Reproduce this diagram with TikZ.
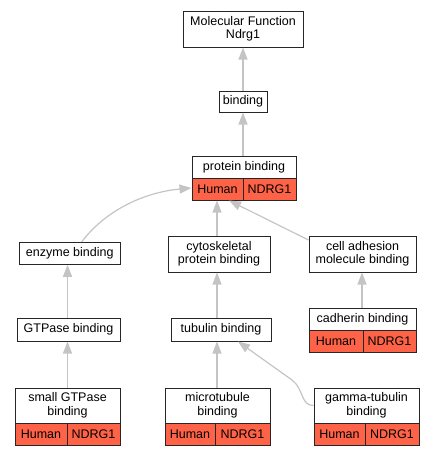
\documentclass[tikz,border=0pt]{standalone}
\usepackage{fontspec}
\setmainfont{Liberation Sans}
\usetikzlibrary{arrows.meta}
\definecolor{cellred}{RGB}{255,99,71}
\definecolor{edgegray}{RGB}{196,196,196}
\tikzset{
  box/.style={draw=black!85, line width=1pt, fill=white, inner sep=0pt, align=center,
    font=\fontsize{12.5}{13.5}\selectfont},
  cell/.style={box, fill=cellred, minimum height=22pt},
  edge/.style={draw=edgegray, line width=1.2pt,
    -{Triangle[width=9pt,length=12pt,fill=edgegray]}},
}
\begin{document}
\begin{tikzpicture}[x=1pt,y=-1pt]
\useasboundingbox (0,0) rectangle (435,456);
% nodes
\node[box, minimum width=120pt, minimum height=36pt] (mf) at (243,29) {Molecular Function\\Ndrg1};
\node[box, minimum width=48pt, minimum height=21pt] (bind) at (243,101.5) {binding};
\node[box, minimum width=104pt, minimum height=22pt] (pb) at (244,167) {protein binding};
\node[cell, minimum width=51pt] (pbH) at (217.5,189) {Human};
\node[cell, minimum width=53pt] (pbN) at (269.5,189) {NDRG1};
\node[box, minimum width=100.5pt, minimum height=22pt] (enz) at (69.75,253.3) {enzyme binding};
\node[box, minimum width=103pt, minimum height=23pt] (gtp) at (68.5,329.5) {GTPase binding};
\node[box, minimum width=105pt, minimum height=35pt] (sg) at (67.5,405.5) {small GTPase\\binding};
\node[cell, minimum width=52pt] (sgH) at (41,434) {Human};
\node[cell, minimum width=53pt] (sgN) at (93.5,434) {NDRG1};
\node[box, minimum width=102pt, minimum height=36pt] (cyto) at (219,254) {cytoskeletal\\protein binding};
\node[box, minimum width=100pt, minimum height=23pt] (tub) at (221,329.5) {tubulin binding};
\node[box, minimum width=105pt, minimum height=35pt] (mt) at (217.5,405.5) {microtubule\\binding};
\node[cell, minimum width=50pt] (mtH) at (190,434) {Human};
\node[cell, minimum width=55pt] (mtN) at (242.5,434) {NDRG1};
\node[box, minimum width=107pt, minimum height=36pt] (ca) at (362.5,254) {cell adhesion\\molecule binding};
\node[box, minimum width=107pt, minimum height=22pt] (cad) at (362.5,319) {cadherin binding};
\node[cell, minimum width=54pt] (cadH) at (336,341) {Human};
\node[cell, minimum width=53pt] (cadN) at (389.5,341) {NDRG1};
\node[box, minimum width=105pt, minimum height=35pt] (gam) at (366.5,405.5) {gamma-tubulin\\binding};
\node[cell, minimum width=51pt] (gamH) at (339.5,434) {Human};
\node[cell, minimum width=54pt] (gamN) at (392,434) {NDRG1};
% edges
\draw[edge] (bind.north) -- (bind.north |- mf.south);
\draw[edge] ([xshift=-1pt]pb.north) -- ([xshift=-1pt]pb.north |- bind.south);
\draw[edge] ([xshift=-2pt]cyto.north) -- ([xshift=-2pt]cyto.north |- pbH.south);
\draw[edge] ([xshift=-4pt]tub.north) -- ([xshift=-4pt]tub.north |- cyto.south);
\draw[edge] ([xshift=-0.5pt]mt.north) -- ([xshift=-0.5pt]mt.north |- tub.south);
\draw[edge] ([xshift=-1pt]gtp.north) -- ([xshift=-1pt]gtp.north |- enz.south);
\draw[edge] (sg.north) -- (sg.north |- gtp.south);
\draw[edge] ([xshift=-0.5pt]cad.north) -- ([xshift=-0.5pt]cad.north |- ca.south);
\draw[edge] ([xshift=12pt]enz.north) .. controls +(25,-33) and +(-45,4) .. ([yshift=1pt]pbH.west);
\draw[edge] ([yshift=14pt]ca.west) -- ([xshift=11.5pt]pbH.south);
\coordinate (gbend) at (292,380);
\draw[edge] (gam.west) .. controls +(-13,0) and +(12,9) .. (gbend) -- ([xshift=17pt]tub.south);
\end{tikzpicture}
\end{document}
